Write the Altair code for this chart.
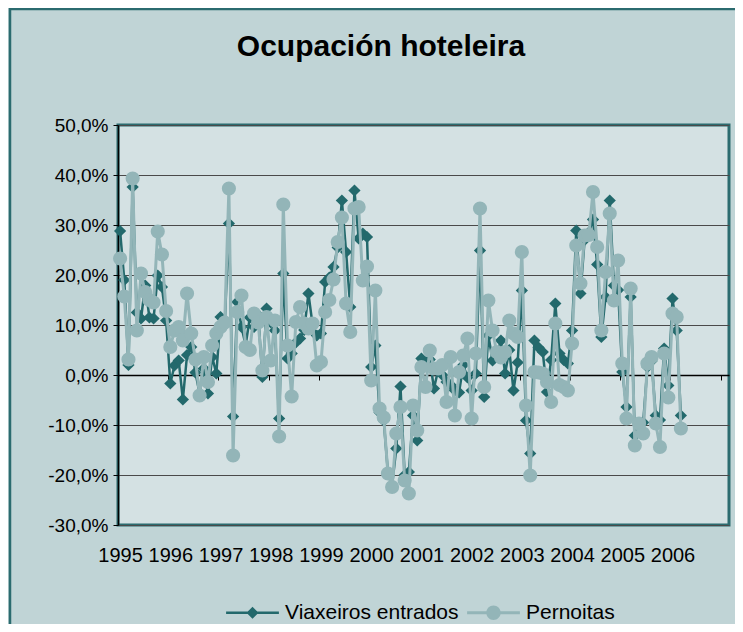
import altair as alt
import pandas as pd

# ---------------- data ----------------
title_text = "Ocupación hoteleira"
series_names = ["Viaxeiros entrados", "Pernoitas"]
year_labels = ["1995", "1996", "1997", "1998", "1999", "2000",
               "2001", "2002", "2003", "2004", "2005", "2006"]
y_ticks = [-0.3, -0.2, -0.1, 0.0, 0.1, 0.2, 0.3, 0.4, 0.5]

# monthly year-on-year change (%), Jan 1995 .. Mar 2006
viaxeiros = [
    28.8, 19.0, 2.0, 37.6, 12.5, 11.3, 17.9, 11.5, 11.3, 19.9, 17.6, 10.9,
    -1.7, 1.9, 2.9, -4.9, 4.0, 5.6, 0.5, -3.7, 1.3, -3.7, 3.6, 0.3,
    11.6, 10.0, 30.3, -8.3, 14.6, 9.6, 6.0, 11.5, 9.6, 12.0, -0.4, 13.3,
    10.5, 8.9, -8.7, 20.3, 3.3, 4.3, 6.5, 7.3, 9.0, 16.3, 10.0, 7.9,
    8.3, 18.6, 19.5, 21.6, 25.5, 34.9, 24.6, 13.6, 36.9, 27.3, 28.3, 27.6,
    1.6, 5.9, -7.5, -9.1, -19.5, -22.0, -14.7, -2.3, -20.0, -19.4, -8.1, -13.1,
    3.3, 2.5, 3.1, -2.7, 1.0, 0.0, -1.4, -2.0, -3.1, -3.5, 2.0, -0.5,
    -3.1, 0.3, 24.9, -4.4, 7.9, 2.9, 4.0, 6.9, 0.3, 5.0, -3.1, 2.5,
    16.9, -9.1, -15.7, 6.9, 5.5, 4.6, -3.4, 3.0, 14.3, 4.3, 3.0, 2.3,
    8.9, 28.9, 16.3, 27.0, 28.5, 31.1, 22.1, 7.6, 15.6, 34.9, 17.9, 17.0,
    0.6, -6.4, 15.6, -12.1, -10.5, -9.5, 1.6, 2.8, -8.1, -9.0, 5.3, -2.1,
    15.3, 8.9, -8.1,
]
pernoitas = [
    23.3, 15.7, 3.1, 39.3, 8.9, 20.3, 16.6, 15.0, 14.5, 28.7, 24.1, 12.8,
    5.6, 8.9, 9.6, 6.9, 16.3, 8.3, 3.1, -4.1, 3.6, -1.4, 5.9, 8.3,
    9.6, 10.5, 37.3, -16.1, 12.6, 15.9, 5.6, 5.0, 12.3, 10.5, 0.9, 11.6,
    2.9, 10.9, -12.3, 34.1, 5.9, -4.3, 10.6, 13.6, 10.3, 9.3, 10.3, 1.9,
    2.6, 12.6, 15.0, 19.1, 26.6, 31.5, 14.3, 8.6, 33.3, 33.6, 18.9, 21.7,
    -1.1, 16.9, -6.7, -8.5, -19.7, -22.4, -11.7, -6.4, -21.1, -23.7, -6.1, -11.1,
    1.6, -2.4, 4.9, 1.3, 1.3, 2.0, -5.4, 3.6, -8.1, 0.6, 3.9, 7.3,
    -8.7, 4.3, 33.3, -2.4, 14.9, 8.9, 4.6, 3.5, 4.6, 10.9, 8.3, 7.6,
    24.6, -6.1, -20.1, 0.6, 0.5, 0.3, -1.4, -5.4, 10.3, -2.0, -2.4, -3.1,
    6.3, 25.9, 18.3, 27.9, 28.0, 36.6, 25.6, 8.9, 20.6, 32.3, 14.9, 22.9,
    2.3, -8.7, 17.3, -14.1, -9.7, -11.7, 2.3, 3.6, -9.7, -14.4, 4.3, -4.5,
    12.3, 11.6, -10.7,
]

n = len(viaxeiros)
df = pd.DataFrame({
    "mes": list(range(n)) * 2,
    "valor": [v / 100 for v in viaxeiros] + [p / 100 for p in pernoitas],
    "serie": [series_names[0]] * n + [series_names[1]] * n,
})

# ---------------- style ----------------
FONT = "Liberation Sans"
DARK = "#23696c"
LIGHT = "#93b5b8"
TEAL = "#2b6b6f"
OUTER_BG = "#c0d4d6"
PLOT_BG = "#d4e1e3"
W, H = 611, 400
N_SLOTS = 146

x_scale = alt.Scale(domain=[-0.5, N_SLOTS - 0.5], nice=False, zero=False)
y_scale = alt.Scale(domain=[y_ticks[0], y_ticks[-1]], nice=False, zero=False)

years_js = "[" + ",".join("'%s'" % y for y in year_labels) + "]"
x_label_axis = alt.Axis(
    orient="bottom", values=[12 * k for k in range(len(year_labels))],
    labelExpr=years_js + "[round(datum.value / 12)]",
    ticks=False, tickSize=0, domain=False, grid=False, title=None,
    labelFont=FONT, labelFontSize=20, labelColor="black", labelPadding=20,
    labelOverlap=False, labelFlush=False, labelBound=False,
)
x_zero_axis = alt.Axis(
    orient="bottom", offset=-(H * 0.3 / 0.8),
    values=[12 * k - 0.5 for k in range(13)],
    labels=False, ticks=True, tickSize=5, tickColor="black", tickWidth=1,
    domain=True, domainColor="black", domainWidth=1.5, grid=False, title=None,
)
y_axis = alt.Axis(
    values=y_ticks,
    labelExpr="replace(replace(format(datum.value, '.1%'), '.', ','), '\u2212', '-')",
    grid=True, gridColor="#4a4a4a", gridWidth=1,
    domain=True, domainColor="black", domainWidth=1.5,
    ticks=True, tickColor="black", tickSize=5, tickWidth=1,
    labelFont=FONT, labelFontSize=19, labelColor="black", labelPadding=5,
    title=None,
)

PATH_V = "M-4.4,-0.22L4.4,-0.22L4.4,0.22L-4.4,0.22Z M0,-1L1,0L0,1L-1,0Z"
PATH_P = ("M-4.4,-0.24L4.4,-0.24L4.4,0.24L-4.4,0.24Z "
          "M1.2,0A1.2,1.2 0 1,1 -1.2,0A1.2,1.2 0 1,1 1.2,0Z")

legend_def = alt.Legend(
    orient="none", direction="horizontal", legendX=124, legendY=477,
    title=None, labelFont=FONT, labelFontSize=21, labelColor="black",
    symbolSize=144, symbolStrokeWidth=0, symbolOpacity=1,
    labelOffset=22, columnPadding=8, padding=0, labelLimit=400,
)

base = alt.Chart(df)
xq = lambda ax: alt.X("mes:Q", scale=x_scale, axis=ax)
yq = lambda: alt.Y("valor:Q", scale=y_scale, axis=y_axis)

line_v = base.transform_filter(alt.datum.serie == series_names[0]).mark_line(
    color=DARK, strokeWidth=2.5).encode(x=xq(x_label_axis), y=yq())
pts_v = base.transform_filter(alt.datum.serie == series_names[0]).mark_point(
    shape="diamond", filled=True, color=DARK, size=150, opacity=1).encode(
    x=xq(None), y=yq())
line_p = base.transform_filter(alt.datum.serie == series_names[1]).mark_line(
    color=LIGHT, strokeWidth=3).encode(x=xq(None), y=yq())
pts_p = base.transform_filter(alt.datum.serie == series_names[1]).mark_point(
    shape="circle", filled=True, color=LIGHT, size=200, opacity=1).encode(
    x=xq(None), y=yq())
zero_axis = base.mark_point(opacity=0).encode(x=xq(x_zero_axis), y=yq())
legend_layer = base.transform_filter("false").mark_point(
    filled=True, opacity=1, size=144).encode(
    x=xq(None), y=yq(),
    color=alt.Color("serie:N", scale=alt.Scale(domain=series_names, range=[DARK, LIGHT]),
                    legend=legend_def),
    shape=alt.Shape("serie:N", scale=alt.Scale(domain=series_names, range=[PATH_V, PATH_P]),
                    legend=legend_def),
)
title_layer = alt.Chart(pd.DataFrame({"t": [title_text]})).mark_text(
    font=FONT, fontSize=30, fontWeight="bold", color="black",
    align="center", baseline="middle").encode(
    text="t:N", x=alt.value(263), y=alt.value(-78))
frame = alt.Chart(pd.DataFrame({"f": [0]})).mark_rect(
    fillOpacity=0, stroke=TEAL, strokeWidth=2.5).encode(
    x=alt.value(-108), x2=alt.value(W + 40), y=alt.value(-116), y2=alt.value(H + 200))

chart = alt.layer(
    zero_axis, line_v, pts_v, line_p, pts_p, legend_layer, title_layer, frame
).resolve_axis(x="independent").properties(
    width=W, height=H,
    autosize=alt.AutoSizeParams(type="none"),
    padding={"left": 110, "top": 117, "right": 6, "bottom": 99},
    background=OUTER_BG,
).configure_view(
    fill=PLOT_BG, stroke=TEAL, strokeWidth=3,
)

chart.save("out.html", embed_options={"renderer": "svg", "actions": False})
